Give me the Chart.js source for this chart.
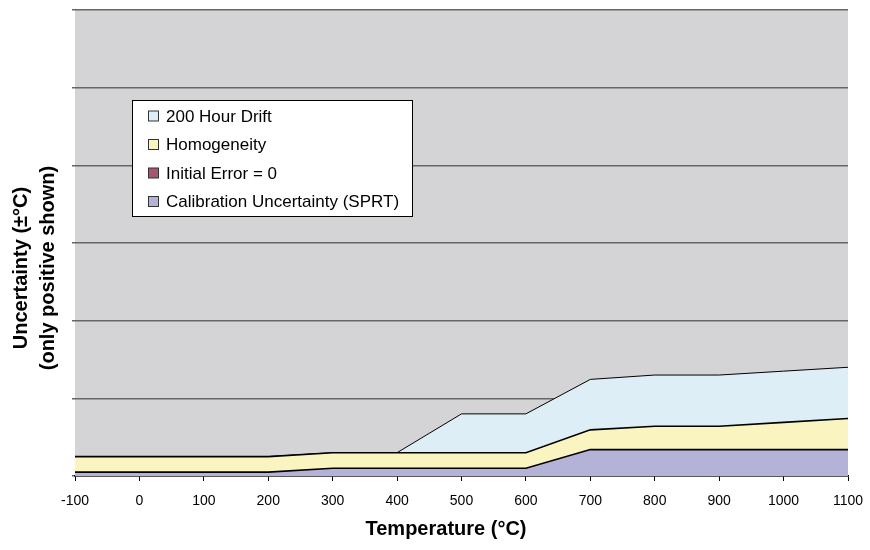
<!DOCTYPE html>
<html>
<head>
<meta charset="utf-8">
<script src="https://cdn.jsdelivr.net/npm/chart.js@4.4.1/dist/chart.umd.min.js"></script>
<style>
  html, body { margin: 0; padding: 0; background: #ffffff; }
  #wrap { width: 870px; height: 550px; position: relative; }
</style>
</head>
<body>
<div id="wrap"><canvas id="c" width="870" height="550"></canvas></div>
<script>
const temperatures = ['-100', '0', '100', '200', '300', '400', '500', '600', '700', '800', '900', '1000', '1100'];
const calibrationUncertainty = [0.025, 0.025, 0.025, 0.025, 0.05, 0.05, 0.05, 0.05, 0.17, 0.17, 0.17, 0.17, 0.17];
const initialError = [0, 0, 0, 0, 0, 0, 0, 0, 0, 0, 0, 0, 0];
const homogeneity = [0.1, 0.1, 0.1, 0.1, 0.1, 0.1, 0.1, 0.1, 0.127, 0.15, 0.15, 0.175, 0.2];
const drift200h = [0, 0, 0, 0, 0, 0, 0.25, 0.25, 0.325, 0.33, 0.33, 0.33, 0.33];
const seriesNames = ['Calibration Uncertainty (SPRT)', 'Initial Error = 0', 'Homogeneity', '200 Hour Drift'];
const seriesColors = ['#b4b2d6', '#a8566f', '#faf5c0', '#ddeef6'];
const xTitle = 'Temperature (°C)';
const yTitle = ['Uncertainty (±°C)', '(only positive shown)'];

const FONT = '"Liberation Sans", Arial, sans-serif';

const bgPlugin = {
  id: 'plotBg',
  beforeDraw(chart) {
    const { ctx, chartArea: a } = chart;
    ctx.save();
    ctx.fillStyle = '#d4d4d6';
    ctx.fillRect(a.left, a.top, a.right - a.left, a.bottom - a.top);
    ctx.restore();
  }
};

const decorPlugin = {
  id: 'decor',
  afterDraw(chart) {
    const { ctx } = chart;
    ctx.save();
    // axis titles
    ctx.fillStyle = '#000';
    ctx.font = 'bold 20px ' + FONT;
    ctx.textAlign = 'center';
    ctx.textBaseline = 'middle';
    ctx.fillText(xTitle, 446, 529);
    ctx.save();
    ctx.translate(21, 268);
    ctx.rotate(-Math.PI / 2);
    ctx.fillText(yTitle[0], 0, 0);
    ctx.fillText(yTitle[1], 0, 27);
    ctx.restore();
    // legend box
    const lx = 132, ly = 100, lw = 280, lh = 116;
    ctx.fillStyle = '#ffffff';
    ctx.fillRect(lx, ly, lw, lh);
    ctx.strokeStyle = '#000';
    ctx.lineWidth = 1;
    ctx.strokeRect(lx + 0.5, ly + 0.5, lw, lh);
    ctx.font = '17px ' + FONT;
    ctx.textAlign = 'left';
    for (let i = 0; i < 4; i++) {
      const idx = 3 - i;
      const cy = 116 + i * 28.5;
      ctx.fillStyle = seriesColors[idx];
      ctx.fillRect(148.5, cy - 5, 10, 10);
      ctx.strokeStyle = '#333';
      ctx.strokeRect(148.5, cy - 5, 10, 10);
      ctx.fillStyle = '#000';
      ctx.fillText(seriesNames[idx], 166, cy + 1);
    }
    ctx.restore();
  }
};

const datasets = [calibrationUncertainty, initialError, homogeneity, drift200h].map((d, i) => ({
  label: seriesNames[i],
  data: d,
  backgroundColor: seriesColors[i],
  borderColor: '#000',
  borderWidth: i === 1 ? 0 : (i === 3 ? 1 : 1.6),
  fill: i === 0 ? 'origin' : '-1',
  pointRadius: 0,
  tension: 0
}));

new Chart(document.getElementById('c'), {
  type: 'line',
  data: { labels: temperatures, datasets },
  plugins: [bgPlugin, decorPlugin],
  options: {
    responsive: false,
    animation: false,
    layout: { padding: { left: 0, right: 22, top: 10, bottom: 0 } },
    plugins: { legend: { display: false }, tooltip: { enabled: false } },
    scales: {
      x: {
        offset: false,
        grid: { drawOnChartArea: false, drawTicks: true, tickLength: 5, color: '#000', lineWidth: 1 },
        border: { display: true, color: '#000', width: 1.5 },
        ticks: { color: '#000', font: { family: FONT, size: 14 }, padding: 12, maxRotation: 0, autoSkip: false },
        afterFit(scale) { scale.height = 74; scale.paddingRight = 0; scale.paddingLeft = 0; }
      },
      y: {
        stacked: true,
        min: 0,
        max: 3,
        ticks: { stepSize: 0.5, display: false },
        grid: { color: '#666', lineWidth: 1.5, drawTicks: true, tickLength: 3 },
        border: { display: false },
        afterFit(scale) { scale.width = 75; }
      }
    }
  }
});
</script>
</body>
</html>
